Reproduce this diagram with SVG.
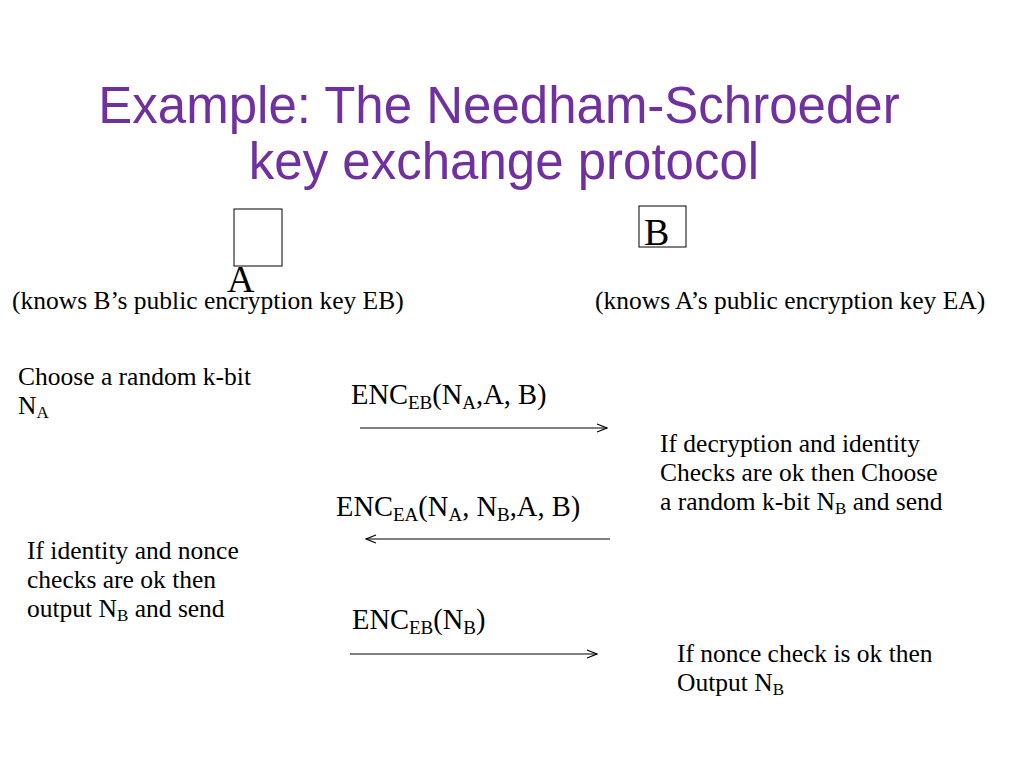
<svg xmlns="http://www.w3.org/2000/svg" width="1024" height="768" viewBox="0 0 1024 768">
<style>
.title{font-family:"Liberation Sans",Arial,sans-serif;font-size:51px;fill:#7030A0}
.t{font-family:"Liberation Serif","Times New Roman",serif;fill:#000}
.s22{font-size:25.5px}
.s24{font-size:28.5px}
.sub{font-size:17px}
.sub2{font-size:19px}
.box{fill:#fff;stroke:#000;stroke-width:1}
.conn{stroke:#000;stroke-width:1.2;fill:none}
</style>
<defs>
<marker id="open" markerWidth="12" markerHeight="10" refX="11" refY="5" orient="auto" markerUnits="userSpaceOnUse">
<path d="M1,1 L11,5 L1,9" fill="none" stroke="#000" stroke-width="1.2"/>
</marker>
</defs>
<rect width="1024" height="768" fill="#fff"/>
<g id="title">
<text class="title" x="499" y="123" text-anchor="middle">Example: The Needham-Schroeder</text>
<text class="title" x="504" y="179" text-anchor="middle">key exchange protocol</text>
</g>
<g id="nodeA">
<rect class="box" x="234" y="209" width="48" height="57"/>
<text class="t" x="227" y="292" font-size="38">A</text>
<text class="t s22" x="12" y="309">(knows B’s public encryption key EB)</text>
</g>
<g id="nodeB">
<rect class="box" x="639" y="206" width="47" height="41"/>
<text class="t" x="644" y="245" font-size="38">B</text>
<text class="t s22" x="595" y="309">(knows A’s public encryption key EA)</text>
</g>
<g id="stepA1">
<text class="t s22" x="18" y="385">Choose a random k-bit</text>
<text class="t s22" x="18" y="414">N<tspan class="sub" dy="4">A</tspan></text>
</g>
<g id="stepB1">
<text class="t s22" x="660" y="452">If decryption and identity</text>
<text class="t s22" x="660" y="481">Checks are ok then Choose</text>
<text class="t s22" x="660" y="510">a random k-bit N<tspan class="sub" dy="4">B</tspan><tspan dy="-4"> and send</tspan></text>
</g>
<g id="stepA2">
<text class="t s22" x="27" y="559">If identity and nonce</text>
<text class="t s22" x="27" y="588">checks are ok then</text>
<text class="t s22" x="27" y="617">output N<tspan class="sub" dy="4">B</tspan><tspan dy="-4"> and send</tspan></text>
</g>
<g id="stepB2">
<text class="t s22" x="677" y="662">If nonce check is ok then</text>
<text class="t s22" x="677" y="691">Output N<tspan class="sub" dy="4">B</tspan></text>
</g>
<g id="connectors">
<line class="conn" x1="360" y1="428" x2="607" y2="428" marker-end="url(#open)"/>
<line class="conn" x1="610" y1="539" x2="366" y2="539" marker-end="url(#open)"/>
<line class="conn" x1="350" y1="654" x2="597" y2="654" marker-end="url(#open)"/>
<text class="t s24" x="351" y="404">ENC<tspan class="sub2" dy="5">EB</tspan><tspan dy="-5">(N</tspan><tspan class="sub2" dy="5">A</tspan><tspan dy="-5">,A, B)</tspan></text>
<text class="t s24" x="336" y="516">ENC<tspan class="sub2" dy="5">EA</tspan><tspan dy="-5">(N</tspan><tspan class="sub2" dy="5">A</tspan><tspan dy="-5">, N</tspan><tspan class="sub2" dy="5">B</tspan><tspan dy="-5">,A, B)</tspan></text>
<text class="t s24" x="352" y="629">ENC<tspan class="sub2" dy="5">EB</tspan><tspan dy="-5">(N</tspan><tspan class="sub2" dy="5">B</tspan><tspan dy="-5">)</tspan></text>
</g>
</svg>
